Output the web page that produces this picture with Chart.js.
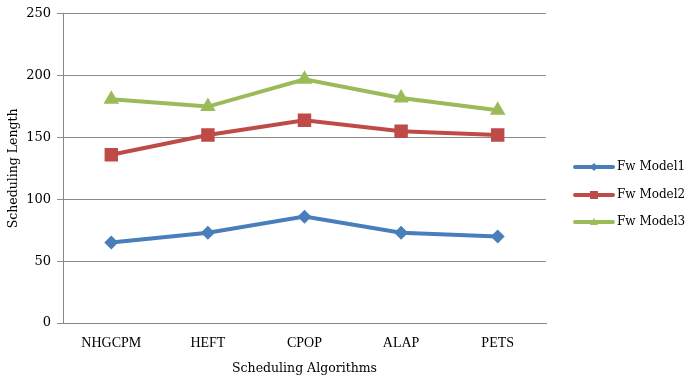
<!DOCTYPE html>
<html><head><meta charset="utf-8">
<script src="https://cdn.jsdelivr.net/npm/chart.js@4"></script>
<style>html,body{margin:0;padding:0;background:#fff}#w{width:689px;height:380px}</style>
</head><body><div id="w"><canvas id="c"></canvas></div>
<script>
const categories = ["NHGCPM","HEFT","CPOP","ALAP","PETS"];
const model1 = [65, 73, 86, 73, 70];
const model2 = [136, 152, 164, 155, 152];
const model3 = [181, 175, 197, 182, 172];
const seriesNames = ["Fw Model1","Fw Model2","Fw Model3"];
const colors = ["#4a7ebb","#be4b48","#9bbb59"];
const styles = ["rectRot","rect","triangle"];
const radii = [7,9.5,9];
const FONT = "'DejaVu Serif', serif";
const CAPS = "'Liberation Serif', serif";

const legendPlugin = {
  id: 'sideLegend',
  afterDraw(chart){
    const ctx = chart.ctx;
    const x0 = 575, x1 = 613;
    const ys = [167,195,222];
    chart.data.datasets.forEach((ds,i)=>{
      const y = ys[i];
      ctx.save();
      ctx.strokeStyle = ds.borderColor; ctx.lineWidth = 4; ctx.lineCap='round';
      ctx.beginPath(); ctx.moveTo(x0,y); ctx.lineTo(x1,y); ctx.stroke();
      ctx.fillStyle = ds.borderColor;
      const cx=(x0+x1)/2;
      if(i===0){ctx.beginPath();ctx.moveTo(cx,y-4);ctx.lineTo(cx+4,y);ctx.lineTo(cx,y+4);ctx.lineTo(cx-4,y);ctx.closePath();ctx.fill();}
      else if(i===1){ctx.fillRect(cx-4,y-4,8,8);}
      else {ctx.beginPath();ctx.moveTo(cx,y-4);ctx.lineTo(cx+4,y+3);ctx.lineTo(cx-4,y+3);ctx.closePath();ctx.fill();}
      ctx.fillStyle='#000'; ctx.font = "12px "+FONT; ctx.textBaseline='middle'; ctx.textAlign='left';
      ctx.fillText(ds.label, x1+4, y);
      ctx.restore();
    });
  }
};

new Chart(document.getElementById('c'), {
  type: 'line',
  data: {
    labels: categories,
    datasets: [model1,model2,model3].map((d,i)=>({
      label: seriesNames[i], data: d,
      borderColor: colors[i], backgroundColor: colors[i],
      borderWidth: 4, pointStyle: styles[i], pointRadius: radii[i], pointHoverRadius: radii[i],
      pointBorderWidth: 0, tension: 0
    }))
  },
  options: {
    responsive: true, maintainAspectRatio: false, animation: false,
    layout: { padding: { top: 12, right: 143, left: 0, bottom: 0 } },
    plugins: { legend: { display: false }, tooltip: { enabled: false } },
    scales: {
      x: {
        offset: true,
        grid: { display: false, drawTicks: false },
        border: { display: true, color: '#888', width: 1 },
        ticks: { color: '#000', font: { family: CAPS, size: 14 }, padding: 12 },
        title: { display: true, text: 'Scheduling Algorithms', color: '#000', font: { family: FONT, size: 12.5 }, padding: { top: 4 } },
        afterFit(s){ s.height = 57; }
      },
      y: {
        min: 0, max: 250,
        ticks: { stepSize: 50, color: '#000', font: { family: FONT, size: 13 }, padding: 6 },
        grid: { color: '#8c8c8c', lineWidth: 1, drawTicks: true, tickLength: 6 },
        border: { display: true, color: '#888' },
        title: { display: true, text: 'Scheduling Length', color: '#000', font: { family: FONT, size: 12.5 }, padding: { top: 6, bottom: 0 } },
        afterFit(s){ s.width = 63; }
      }
    }
  },
  plugins: [legendPlugin]
});
</script></body></html>
